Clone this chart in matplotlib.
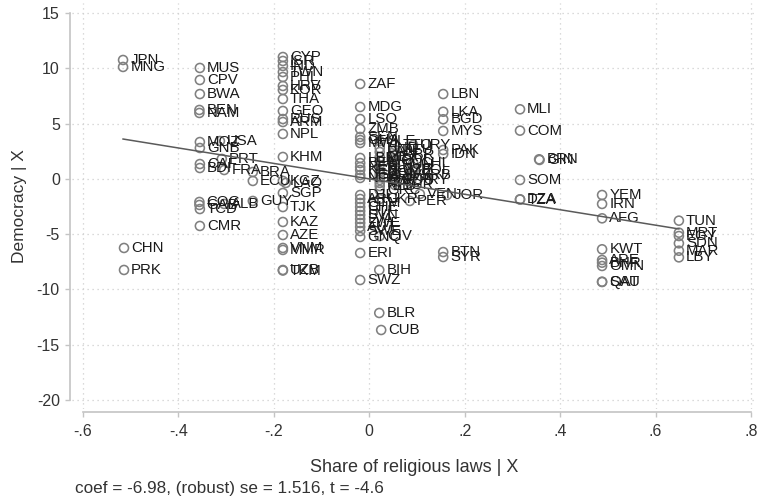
import matplotlib
matplotlib.use('Agg')
import matplotlib.pyplot as plt
import numpy as np

plt.rcParams['font.family'] = ['Liberation Sans', 'DejaVu Sans']

# ---- data (added-variable plot: residuals) ----
countries = [
    'JPN', 'MNG', 'CHN', 'PRK',
    'MUS', 'CPV', 'BWA', 'BEN', 'NAM', 'MOZ', 'GNB', 'CAF', 'BDI', 'COG', 'GAB', 'TCD', 'CMR',
    'USA', 'PRT', 'FRA', 'ALB', 'BRA', 'ECU', 'GUY',
    'CYP', 'ISR', 'IND', 'TWN', 'PHL', 'HRV', 'KOR', 'THA', 'GEO', 'RUS', 'ARM', 'NPL', 'KHM',
    'KGZ', 'LAO', 'SGP', 'TJK', 'KAZ', 'AZE', 'VNM', 'MMR', 'UZB', 'TKM',
    'ZAF', 'MDG', 'LSO', 'ZMB', 'SEN', 'GHA', 'MWI', 'LBR', 'BFA', 'NER', 'KEN', 'UGA', 'NGA',
    'DJI', 'ARG', 'GTM', 'CHE', 'HTI', 'SVN', 'LVA', 'ZWE', 'AUT', 'SWE', 'GNQ', 'ERI', 'SWZ',
    'SLE', 'HND', 'PAN', 'MEX', 'NIC', 'SLV', 'DOM', 'COL', 'CRI', 'ESP', 'ITA', 'NLD', 'GRC',
    'UKR', 'CIV', 'BIH', 'BLR', 'CUB',
    'TTO', 'DEU', 'GBR', 'POL', 'HUN', 'CZE', 'SVK', 'ROU', 'BGR',
    'URY', 'CHL', 'BOL', 'SRB', 'PRY', 'VEN', 'PER', 'JOR',
    'LBN', 'LKA', 'BGD', 'MYS', 'PAK', 'IDN', 'BTN', 'SYR',
    'MLI', 'COM', 'SOM', 'DZA', 'TZA', 'BRN', 'GIN',
    'YEM', 'IRN', 'AFG', 'KWT', 'ARE', 'BHR', 'OMN', 'QAT', 'SAU',
    'TUN', 'MRT', 'EGY', 'SDN', 'MAR', 'LBY',
]

religious_share = [
    -0.516, -0.516, -0.514, -0.514,
    -0.355, -0.355, -0.355, -0.356, -0.356, -0.355, -0.355, -0.355, -0.355, -0.356, -0.356, -0.355, -0.355,
    -0.313, -0.309, -0.304, -0.304, -0.244, -0.244, -0.244,
    -0.181, -0.181, -0.181, -0.181, -0.181, -0.181, -0.181, -0.181, -0.181, -0.181, -0.181, -0.181, -0.181,
    -0.181, -0.175, -0.181, -0.181, -0.181, -0.181, -0.181, -0.181, -0.181, -0.181,
    -0.019, -0.019, -0.019, -0.019, -0.019, -0.019, -0.019, -0.019, -0.019, -0.019, -0.019, -0.019, -0.019,
    -0.019, -0.019, -0.019, -0.019, -0.019, -0.019, -0.019, -0.019, -0.019, -0.019, -0.019, -0.019, -0.019,
    0.022, 0.022, 0.022, 0.022, 0.022, 0.022, 0.022, 0.022, 0.022, 0.022, 0.022, 0.022, 0.022,
    0.022, 0.022, 0.021, 0.021, 0.025,
    0.054, 0.054, 0.054, 0.054, 0.054, 0.054, 0.054, 0.054, 0.054,
    0.092, 0.092, 0.092, 0.092, 0.088, 0.106, 0.085, 0.163,
    0.155, 0.155, 0.155, 0.155, 0.155, 0.155, 0.155, 0.155,
    0.316, 0.316, 0.316, 0.316, 0.316, 0.356, 0.357,
    0.488, 0.488, 0.488, 0.488, 0.488, 0.488, 0.488, 0.488, 0.488,
    0.649, 0.649, 0.649, 0.649, 0.649, 0.649,
]

democracy = [
    10.75, 10.12, -6.25, -8.24,
    10.03, 8.94, 7.67, 6.23, 5.96, 3.33, 2.79, 1.34, 0.98, -2.09, -2.36, -2.73, -4.26,
    3.42, 1.80, 0.80, -2.27, 0.62, -0.19, -2.00,
    11.02, 10.66, 10.21, 9.66, 9.21, 8.40, 8.04, 7.22, 6.14, 5.41, 5.14, 4.06, 1.98,
    -0.19, -0.37, -1.28, -2.55, -3.90, -5.08, -6.25, -6.43, -8.24, -8.29,
    8.58, 6.50, 5.41, 4.51, 3.79, 3.51, 3.24, 1.89, 1.43, 1.07, 0.80, 0.35, 0.08,
    -1.46, -1.82, -2.18, -2.55, -2.91, -3.27, -3.63, -3.99, -4.35, -4.72, -5.26, -6.71, -9.15,
    3.42, 2.79, 2.43, 1.98, 1.61, 1.25, 0.71, 0.44, 0.17, -0.10, -0.37, -0.65, -1.01,
    -1.82, -5.17, -8.24, -12.13, -13.67,
    3.06, 2.61, 2.16, 1.71, 1.25, 0.80, 0.35, -0.10, -0.56,
    3.06, 1.43, 0.80, 0.35, -0.10, -1.37, -2.00, -1.46,
    7.67, 6.07, 5.39, 4.33, 2.61, 2.25, -6.62, -7.07,
    6.29, 4.36, -0.10, -1.85, -1.87, 1.77, 1.71,
    -1.46, -2.27, -3.57, -6.37, -7.34, -7.58, -7.88, -9.30, -9.33,
    -3.78, -4.87, -5.17, -5.83, -6.50, -7.10,
]

coef = -6.98
robust_se = 1.516
t_stat = -4.6

xticks = [-0.6, -0.4, -0.2, 0.0, 0.2, 0.4, 0.6, 0.8]
xticklabels = ['-.6', '-.4', '-.2', '0', '.2', '.4', '.6', '.8']
yticks = [15, 10, 5, 0, -5, -10, -15, -20]
yticklabels = ['15', '10', '5', '0', '-5', '-10', '-15', '-20']

# ---- figure ----
W, H = 757, 500
fig = plt.figure(figsize=(W / 100, H / 100), dpi=100)
ax = fig.add_axes([72 / W, 1 - 409 / H, (757 - 72) / W, (409 - 3) / H])
ax.set_xlim(-0.623, 0.8127)
ax.set_ylim(-20.814, 15.904)

axis_gray = '#c4c4c4'
text_gray = '#333333'

ax.set_xticks(xticks)
ax.set_xticklabels(xticklabels)
ax.set_yticks(yticks)
ax.set_yticklabels(yticklabels)
ax.grid(True, color='#cfcfcf', linestyle=(0, (1, 3)), linewidth=0.9)
ax.set_axisbelow(True)

for side in ['top', 'right']:
    ax.spines[side].set_visible(False)
ax.spines['left'].set_position(('outward', 1.5))
ax.spines['bottom'].set_position(('outward', 2.2))
ax.spines['left'].set_bounds(-20, 15)
ax.spines['bottom'].set_bounds(-0.6, 0.8)
for side in ['left', 'bottom']:
    ax.spines[side].set_color(axis_gray)
    ax.spines[side].set_linewidth(1.2)

ax.tick_params(axis='both', direction='out', length=3.8, width=1.0,
               color=axis_gray, labelsize=11.5, labelcolor=text_gray)
ax.tick_params(axis='y', pad=3.5)
ax.tick_params(axis='x', pad=5)

ax.set_xlabel('Share of religious laws | X', fontsize=13, color=text_gray, labelpad=14)
ax.set_ylabel('Democracy | X', fontsize=12.5, color=text_gray, labelpad=7)

# markers
ax.scatter(religious_share, democracy, s=42, facecolors='none',
           edgecolors='#808080', linewidths=1.15, zorder=3)

# labels
for lab, xv, yv in zip(countries, religious_share, democracy):
    ax.annotate(lab, (xv, yv), xytext=(5.2, 0), textcoords='offset points',
                ha='left', va='center', fontsize=10.8, color='#1a1a1a', zorder=4)

# fitted line (AV plot line passes through the origin)
xs = np.array([min(religious_share), max(religious_share)])
ax.plot(xs, coef * xs, color='#5a5a5a', linewidth=1.1, zorder=5)

fig.text(75 / W, 1 - 488 / H,
         f'coef = {coef:.2f}, (robust) se = {robust_se:.3f}, t = {t_stat:.1f}',
         fontsize=12.3, color=text_gray, ha='left', va='center')

fig.savefig('out.png', dpi=100)
